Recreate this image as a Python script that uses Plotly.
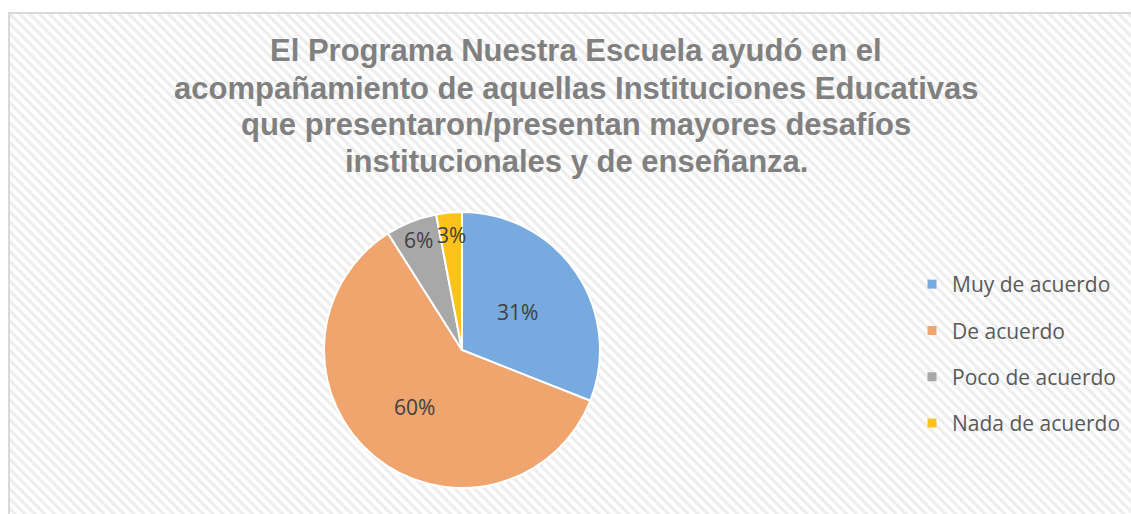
import math
import plotly.graph_objects as go

W, H = 1131, 514

categories = ["Muy de acuerdo", "De acuerdo", "Poco de acuerdo", "Nada de acuerdo"]
values = [31, 60, 6, 3]
colors = ["#77AADF", "#F0A46E", "#A8A8A8", "#FFC21A"]
title_lines = [
    "El Programa Nuestra Escuela ayudó en el",
    "acompañamiento de aquellas Instituciones Educativas",
    "que presentaron/presentan mayores desafíos",
    "institucionales y de enseñanza.",
]

# layout geometry (pixels)
cx, cy, R = 462, 350, 138
left_edge, top_edge = 9, 13

def px(x):
    return x / W

def py(y):
    return 1 - y / H

fig = go.Figure()

# hatched chart-area background
fig.add_trace(go.Scatter(
    x=[0, 1, 1, 0, 0], y=[0, 0, 1, 1, 0], mode="lines",
    line=dict(width=0), fill="toself", fillcolor="white",
    fillpattern=dict(shape="\\", fgcolor="#dcdcdc", bgcolor="white", size=7, solidity=0.45),
    hoverinfo="skip", showlegend=False,
))

fig.add_trace(go.Pie(
    labels=categories, values=values, sort=False, direction="clockwise", rotation=0,
    marker=dict(colors=colors, line=dict(color="white", width=2)),
    textinfo="none", showlegend=False, hoverinfo="label+percent",
    domain=dict(x=[px(cx - R), px(cx + R)], y=[py(cy + R), py(cy - R)]),
))

# legend entries
for i, (cat, col) in enumerate(zip(categories, colors)):
    fig.add_trace(go.Scatter(
        x=[None], y=[None], mode="markers", name=cat,
        marker=dict(symbol="square", size=9, color=col),
        legendgroup=f"g{i}",
    ))

# percentage labels placed from the data
total = sum(values)
radial = [0.49, 0.54, 0.86, 0.84]
annotations = []
cum = 0
for v, rr in zip(values, radial):
    mid = (cum + v / 2) / total * 2 * math.pi
    cum += v
    x = cx + rr * R * math.sin(mid)
    y = cy - rr * R * math.cos(mid)
    annotations.append(dict(
        x=px(x), y=py(y), xref="paper", yref="paper", showarrow=False,
        text=f"{round(v / total * 100)}%", xanchor="center", yanchor="middle",
        font=dict(family="Open Sans", size=21, color="#404040"),
    ))

title_centers = [51, 88, 124, 161]
for line, yc in zip(title_lines, title_centers):
    annotations.append(dict(
        x=px(576), y=py(yc), xref="paper", yref="paper", showarrow=False,
        text=line, xanchor="center", yanchor="middle",
        font=dict(family="Liberation Sans", size=31, color="#808080", weight="bold"),
    ))

fig.update_layout(
    width=W, height=H,
    margin=dict(l=0, r=0, t=0, b=0),
    paper_bgcolor="white", plot_bgcolor="rgba(0,0,0,0)",
    xaxis=dict(domain=[px(left_edge), 1], range=[0, 1], visible=False, fixedrange=True),
    yaxis=dict(domain=[0, py(top_edge)], range=[0, 1], visible=False, fixedrange=True),
    legend=dict(
        x=px(912), y=py(264), xanchor="left", yanchor="top",
        font=dict(family="Open Sans", size=21, color="#595959"),
        bgcolor="rgba(0,0,0,0)", tracegroupgap=16, itemwidth=30,
    ),
    annotations=annotations,
    shapes=[dict(type="rect", xref="paper", yref="paper",
                 x0=px(left_edge), x1=1.01, y0=-0.01, y1=py(top_edge),
                 line=dict(color="#d9d9d9", width=2))],
)

fig.write_html("out.html", config={"displayModeBar": False},
               post_script="document.body.style.margin='0';")
